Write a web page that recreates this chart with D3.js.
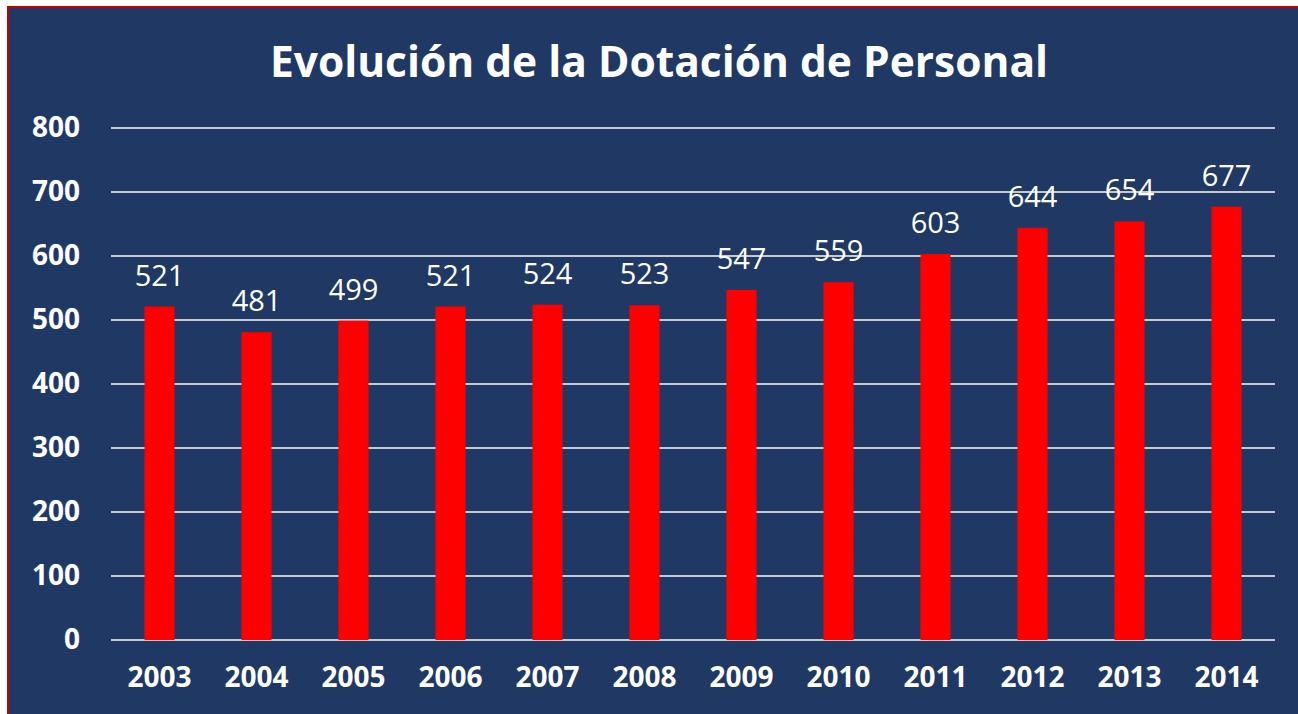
<!DOCTYPE html>
<html>
<head>
<meta charset="utf-8">
<script src="https://cdn.jsdelivr.net/npm/d3@7"></script>
<style>
  html, body { margin: 0; padding: 0; background: #fff; }
  svg { display: block; }
</style>
</head>
<body>
<svg id="chart" width="1298" height="714"></svg>
<script>
const years = ["2003", "2004", "2005", "2006", "2007", "2008", "2009", "2010", "2011", "2012", "2013", "2014"];
const staff = [521, 481, 499, 521, 524, 523, 547, 559, 603, 644, 654, 677];
const yTicks = [0, 100, 200, 300, 400, 500, 600, 700, 800];

const svg = d3.select("#chart");
const W = 1298, H = 714;

// frame: navy panel with red edge top/left
svg.append("rect").attr("x", 7).attr("y", 6).attr("width", W - 7).attr("height", H - 6)
  .attr("fill", "#203864");
svg.append("line").attr("x1", 7).attr("x2", W).attr("y1", 7).attr("y2", 7)
  .attr("stroke", "#c00000").attr("stroke-width", 2);
svg.append("line").attr("x1", 8).attr("x2", 8).attr("y1", 6).attr("y2", H)
  .attr("stroke", "#c00000").attr("stroke-width", 2);

const x = d3.scaleBand().domain(years).range([111, 1275]).paddingInner(0.69).paddingOuter(0.345);
const y = d3.scaleLinear().domain([0, 800]).range([640, 128]);

svg.append("text")
  .attr("x", 659).attr("y", 77)
  .attr("text-anchor", "middle")
  .attr("font-family", "Open Sans")
  .attr("font-weight", "bold")
  .attr("font-size", 42.5)
  .attr("fill", "#fff")
  .text("Evolución de la Dotación de Personal");

// gridlines
svg.append("g").selectAll("line").data(yTicks).join("line")
  .attr("x1", 111).attr("x2", 1275)
  .attr("y1", d => y(d)).attr("y2", d => y(d))
  .attr("stroke", "#c6c9d0").attr("stroke-width", 2);

// y axis
const yAxis = svg.append("g").attr("transform", "translate(111,0)")
  .call(d3.axisLeft(y).tickValues(yTicks).tickSize(0).tickPadding(31));
yAxis.select(".domain").remove();
yAxis.selectAll("text")
  .attr("font-family", "Open Sans").attr("font-weight", "bold")
  .attr("font-size", 28).attr("fill", "#fff");

// x axis
const xAxis = svg.append("g").attr("transform", "translate(0,640)")
  .call(d3.axisBottom(x).tickSize(0).tickPadding(27));
xAxis.select(".domain").remove();
xAxis.selectAll("text")
  .attr("font-family", "Open Sans").attr("font-weight", "bold")
  .attr("font-size", 28).attr("fill", "#fff");

// bars
svg.append("g").selectAll("rect").data(staff).join("rect")
  .attr("x", (d, i) => x(years[i]))
  .attr("y", d => y(d))
  .attr("width", x.bandwidth())
  .attr("height", d => y(0) - y(d))
  .attr("fill", "#ff0000");

// value labels
svg.append("g").selectAll("text").data(staff).join("text")
  .attr("x", (d, i) => x(years[i]) + x.bandwidth() / 2)
  .attr("y", d => y(d) - 21)
  .attr("text-anchor", "middle")
  .attr("font-family", "Open Sans")
  .attr("font-size", 29)
  .attr("fill", "#fff")
  .text(d => d);
</script>
</body>
</html>
